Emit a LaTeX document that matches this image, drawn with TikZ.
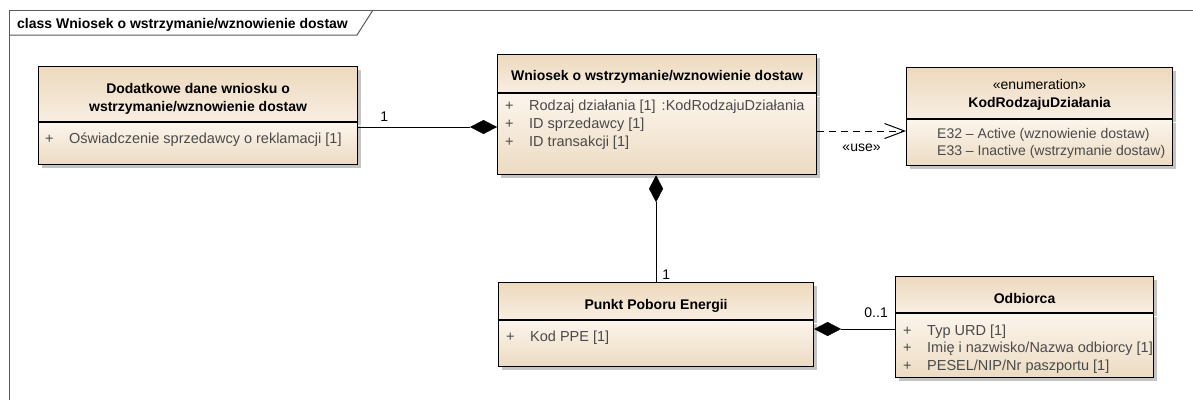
\documentclass[tikz,border=0pt]{standalone}
\usepackage{fontspec}
\setmainfont{Liberation Sans}
\usetikzlibrary{arrows.meta,calc,positioning,shadows}
\definecolor{headtop}{HTML}{EDD9BD}
\definecolor{headbot}{HTML}{F8EEE2}
\definecolor{bodytop}{HTML}{FCF5EC}
\definecolor{bodybot}{HTML}{ECDBC2}
\definecolor{shade}{HTML}{C4C4C4}
\definecolor{attrgray}{HTML}{4A4A4A}
\definecolor{framegray}{HTML}{5A5A5A}
\newcommand\umlfont{\fontsize{14}{18}\selectfont}
\newcommand\attrfont{\fontsize{14.5}{18}\selectfont}
\newcommand\plusmark{\makebox[24pt][l]{+}}
\tikzset{line width=1pt,
  every node/.style={font=\umlfont,inner sep=0pt},
  frameline/.style={draw=framegray,line width=1pt},
  boxshadow/.style={general shadow={fill=shade,shadow xshift=3pt,shadow yshift=-3pt}},
  headbox/.style={draw,line width=1.1pt,top color=headtop,bottom color=headbot,anchor=north west,boxshadow},
  bodybox/.style={draw,line width=1.1pt,top color=bodytop,bottom color=bodybot,anchor=north west,boxshadow},
  title/.style={font=\umlfont\bfseries,anchor=base},
  attr/.style={font=\attrfont,text=attrgray,anchor=base west},
  mult/.style={anchor=base},
  compo/.style={draw,-{Diamond[length=27pt,width=14pt]}},
  usedep/.style={draw,dash pattern=on 7pt off 5pt,-{Straight Barb[length=20pt,width=15pt,line width=1pt]}}}

\begin{document}
\begin{tikzpicture}[x=1pt,y=-1pt]
\fill[white] (0,0) rectangle (1193,400);
\useasboundingbox (0,0) rectangle (1193,400);
% diagram frame
\draw[frameline] (9,400) -- (9,10) -- (1193,10);
\draw[frameline] (9,35) -- (357,35) -- (373,10);
\node[title,anchor=base west] (frameT) at (17,28) {class Wniosek o wstrzymanie/wznowienie dostaw};

% Dodatkowe dane wniosku
\node[headbox,minimum width=319,minimum height=55] (dodH) at (38,66) {};
\node[bodybox,minimum width=319,minimum height=42] (dodB) at (dodH.south west) {};
\node[title,anchor=north,align=center] (dodT) at ($(dodH.north)+(0,17)$) {Dodatkowe dane wniosku o\\wstrzymanie/wznowienie dostaw};
\foreach \txt [count=\i] in {Oświadczenie sprzedawcy o reklamacji [1]}
  \node[attr] (dodA\i) at ($(dodB.north west)+(7,{21+18*(\i-1)})$) {\plusmark\txt};

% Wniosek
\node[headbox,minimum width=319,minimum height=38] (wniH) at (497,54) {};
\node[bodybox,minimum width=319,minimum height=81] (wniB) at (wniH.south west) {};
\node[title] (wniT) at ($(wniH.north)+(0,26)$) {Wniosek o wstrzymanie/wznowienie dostaw};
\foreach \txt [count=\i] in {Rodzaj działania [1]\hspace{6pt}:KodRodzajuDziałania,ID sprzedawcy [1],ID transakcji [1]}
  \node[attr] (wniA\i) at ($(wniB.north west)+(8,{17+18.3*(\i-1)})$) {\plusmark\txt};

% enumeration
\node[headbox,minimum width=266,minimum height=51] (enuH) at (906,67) {};
\node[bodybox,minimum width=266,minimum height=46] (enuB) at (enuH.south west) {};
\node[title,anchor=north,align=center] (enuT) at ($(enuH.north)+(0,12)$) {{\mdseries «enumeration»}\\KodRodzajuDziałania};
\foreach \txt [count=\i] in {E32 – Active (wznowienie dostaw),E33 – Inactive (wstrzymanie dostaw)}
  \node[attr,font=\umlfont] (enuA\i) at ($(enuB.north west)+(31,{19.5+17*(\i-1)})$) {\txt};

% Punkt Poboru Energii
\node[headbox,minimum width=315,minimum height=37] (ppeH) at (498,282) {};
\node[bodybox,minimum width=315,minimum height=46] (ppeB) at (ppeH.south west) {};
\node[title] (ppeT) at ($(ppeH.north)+(0,27)$) {Punkt Poboru Energii};
\foreach \txt [count=\i] in {Kod PPE [1]}
  \node[attr] (ppeA\i) at ($(ppeB.north west)+(8,{21+18*(\i-1)})$) {\plusmark\txt};

% Odbiorca
\node[headbox,minimum width=258,minimum height=36] (odbH) at (895,276) {};
\node[bodybox,minimum width=258,minimum height=64] (odbB) at (odbH.south west) {};
\node[title] (odbT) at ($(odbH.north)+(0,27)$) {Odbiorca};
\foreach \txt [count=\i] in {Typ URD [1],Imię i nazwisko/Nazwa odbiorcy [1],PESEL/NIP/Nr paszportu [1]}
  \node[attr] (odbA\i) at ($(odbB.north west)+(8,{22+17.7*(\i-1)})$) {\plusmark\txt};

% connectors
\draw[compo] (dodB.east |- 0,127) -- (wniB.west |- 0,127);
\node[mult,anchor=base west] (m1) at ($(dodB.east |- 0,127)+(22,-6)$) {1};
\draw[usedep] (wniB.east |- 0,131) -- (enuB.west |- 0,131)
  node[mult,midway,yshift=-20pt] (useL) {«use»};
\draw[compo] (ppeH.north) -- (ppeH.north |- wniB.south);
\node[mult,anchor=base west] (m2) at ($(ppeH.north)+(6,-3)$) {1};
\draw[compo] (odbB.west |- 0,329) -- (ppeB.east |- 0,329);
\node[mult,anchor=base east] (m3) at ($(odbB.west |- 0,329)+(-7,-12)$) {0..1};
\end{tikzpicture}
\end{document}
